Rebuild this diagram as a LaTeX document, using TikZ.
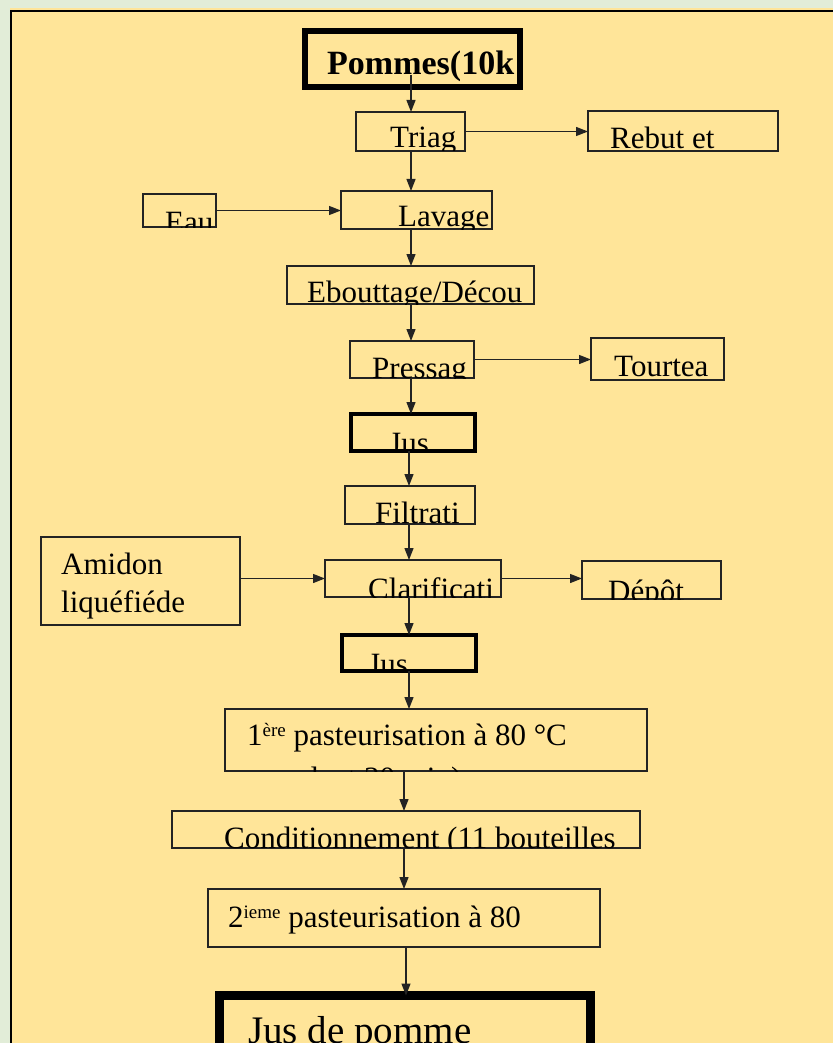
\documentclass[tikz,border=0pt]{standalone}
\usepackage{fontspec}
\setmainfont{Liberation Serif}
\usetikzlibrary{arrows.meta}

\definecolor{fond}{RGB}{255,229,153}
\definecolor{vertpale}{RGB}{226,237,216}
\definecolor{trait}{RGB}{35,35,35}

% texte coupé au bord de sa boîte
\newcommand{\boxlabel}[4]{%
  \begin{scope}
    \clip (#1.south west) rectangle (#1.north east);
    \node[lbl] (#1-t) at (#2,#3) {#4};
  \end{scope}}
\newcommand{\expo}[1]{\raisebox{9pt}{\fontsize{19}{19}\selectfont #1}}

\begin{document}
\begin{tikzpicture}[
  x=1pt, y=-1pt,
  pbox/.style={draw=trait, line width=1.3pt, inner sep=0pt, outer sep=0pt},
  tbox/.style={pbox, draw=black, line width=4.5pt},
  lbl/.style={anchor=base west, inner sep=0pt, font=\fontsize{31}{38}\selectfont},
  arr/.style={draw=trait, line width=1.3pt, -{Triangle[length=12pt, width=9pt]}}
]
  \useasboundingbox (0,0) rectangle (833,1043);
  \clip (0,0) rectangle (833,1043);

  % Fond et cadre
  \fill[vertpale] (0,0) rectangle (833,1043);
  \fill[fond] (10,8) rectangle (833,1043);
  \draw[black, line width=1.7pt] (11,1043) -- (11,11) -- (833,11);

  % Colonnes des flèches verticales
  \coordinate (colA) at (411,0);
  \coordinate (colB) at (409,0);
  \coordinate (colC) at (404,0);
  \coordinate (colD) at (406,0);

  % Boîtes
  \node[tbox, line width=5.5pt, minimum width=215pt, minimum height=56pt] (pom) at (412.5,59) {};
  \node[pbox, minimum width=109pt, minimum height=39pt] (triag) at (410.5,131.5) {};
  \node[pbox, minimum width=190pt, minimum height=40pt] (rebut) at (683,131) {};
  \node[pbox, minimum width=73pt, minimum height=33pt] (eau) at (179.5,210.5) {};
  \node[pbox, minimum width=151pt, minimum height=38pt] (lav) at (416.5,210) {};
  \node[pbox, minimum width=247pt, minimum height=38pt] (ebou) at (410.5,285) {};
  \node[pbox, minimum width=124pt, minimum height=37pt] (press) at (412,359.5) {};
  \node[pbox, minimum width=133pt, minimum height=42pt] (tourt) at (657.5,359) {};
  \node[tbox, minimum width=124pt, minimum height=37pt] (jus1) at (413,432.5) {};
  \node[pbox, minimum width=130pt, minimum height=38pt] (filt) at (410,505) {};
  \node[pbox, minimum width=199pt, minimum height=88pt] (amid) at (140.5,581) {};
  \node[pbox, minimum width=176pt, minimum height=37pt] (clar) at (413,578.5) {};
  \node[pbox, minimum width=139pt, minimum height=38pt] (depot) at (651.5,580) {};
  \node[tbox, minimum width=134pt, minimum height=36pt] (jus2) at (409,653) {};
  \node[pbox, minimum width=422pt, minimum height=62pt] (past1) at (436,740) {};
  \node[pbox, minimum width=468pt, minimum height=37pt] (cond) at (406,829.5) {};
  \node[pbox, minimum width=392pt, minimum height=58pt] (past2) at (404,918) {};
  \node[tbox, line width=9pt, minimum width=371pt, minimum height=84pt] (jusp) at (405,1037.5) {};

  % Textes
  \boxlabel{pom}{327}{75}{\fontsize{34}{40}\selectfont\bfseries Pommes(10k}
  \boxlabel{triag}{390}{148}{Triag}
  \boxlabel{rebut}{610}{149}{Rebut et}
  \boxlabel{eau}{165}{232}{Eau}
  \boxlabel{lav}{398}{226}{Lavage}
  \boxlabel{ebou}{307}{302}{Ebouttage/Décou}
  \boxlabel{press}{372}{378}{Pressag}
  \boxlabel{tourt}{614}{376}{Tourtea}
  \boxlabel{jus1}{389}{453}{Jus}
  \boxlabel{filt}{375}{523}{Filtrati}
  \boxlabel{clar}{368}{599}{Clarificati}
  \boxlabel{depot}{608}{601}{Dépôt}
  \boxlabel{jus2}{368}{674}{Jus}
  \node[lbl] (amid-t) at (61,574) {Amidon};
  \node[lbl] (amid-u) at (61,612) {liquéfiéde};
  \begin{scope}
    \clip (past1.south west) rectangle (past1.north east);
    \node[lbl] (past1-t) at (247,745) {1\expo{ère} pasteurisation à 80 °C};
    \node[lbl] (past1-u) at (258,788) {pendant 30 min)};
  \end{scope}
  \boxlabel{cond}{224}{848}{Conditionnement (11 bouteilles}
  \boxlabel{past2}{228}{927}{2\expo{ieme} pasteurisation à 80}
  \boxlabel{jusp}{248}{1043}{\fontsize{39}{46}\selectfont Jus de pomme}

  % Flèches verticales
  \draw[arr] (pom-t.base -| colA) -- (triag.north -| colA);
  \foreach \a/\b/\c in {triag/lav/colA, lav/ebou/colA, ebou/press/colA, press/jus1/colA,
                        jus1/filt/colB, filt/clar/colB, clar/jus2/colB, jus2/past1/colB,
                        past1/cond/colC, cond/past2/colC, past2/jusp/colD} {
    \draw[arr] (\a.south -| \c) -- (\b.north -| \c);
  }

  % Flèches horizontales
  \draw[arr] (triag.east) -- (triag.east -| rebut.west);
  \draw[arr] (eau.east) -- (eau.east -| lav.west);
  \draw[arr] (press.east) -- (press.east -| tourt.west);
  \draw[arr] (clar.west -| amid.east) -- (clar.west);
  \draw[arr] (clar.east) -- (clar.east -| depot.west);
\end{tikzpicture}
\end{document}
